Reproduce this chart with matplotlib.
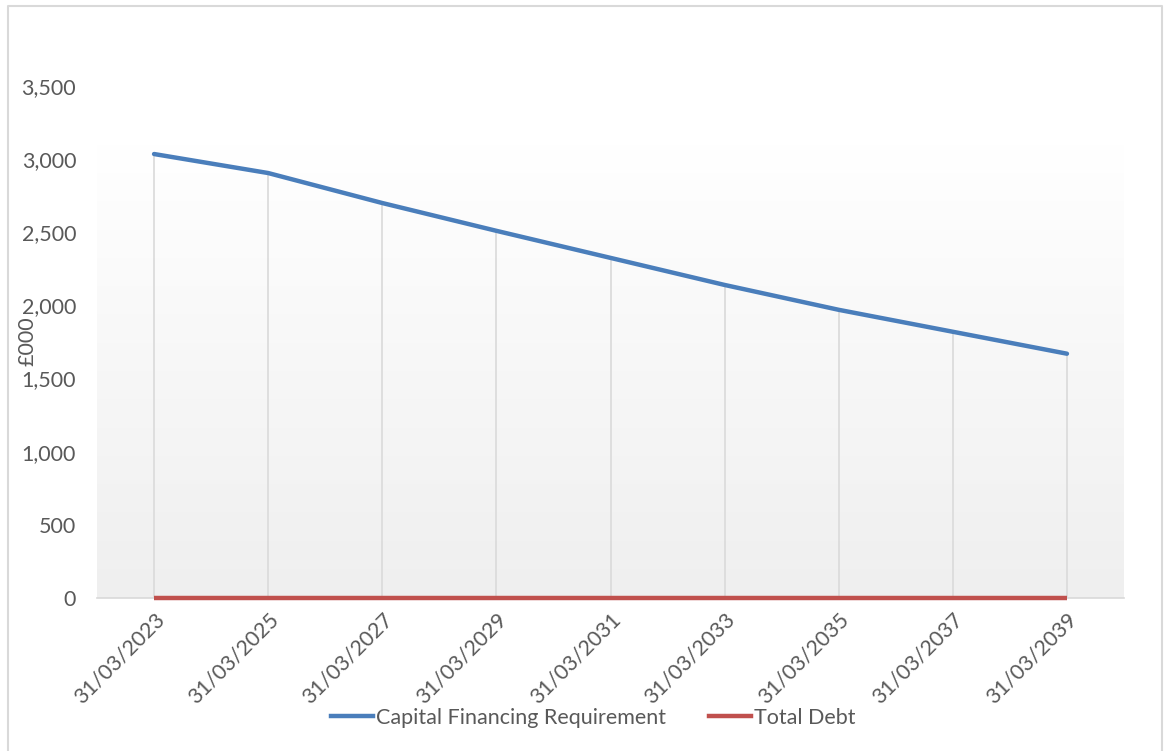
import numpy as np
import matplotlib.pyplot as plt
from matplotlib.lines import Line2D

# Chart data (£000)
dates = ['31/03/2023', '31/03/2025', '31/03/2027', '31/03/2029', '31/03/2031',
         '31/03/2033', '31/03/2035', '31/03/2037', '31/03/2039']
cfr = [3035, 2905, 2700, 2510, 2325, 2140, 1970, 1820, 1670]
total_debt = [0, 0, 0, 0, 0, 0, 0, 0, 0]
yticks = [0, 500, 1000, 1500, 2000, 2500, 3000, 3500]

plt.rcParams['font.family'] = ['Lato', 'DejaVu Sans']
text_col = '#595959'
fs = 15.5

fig = plt.figure(figsize=(11.65, 7.51), dpi=100)
ax = fig.add_axes([97 / 1165, 1 - 598 / 751, (1124 - 97) / 1165, (598 - 86) / 751])

x = np.arange(len(dates))
ax.set_xlim(-0.5, len(dates) - 0.5)
ax.set_ylim(0, 3500)

# gradient plot-area fill (white at top to light grey at bottom)
grad = np.linspace(0, 1, 256).reshape(-1, 1)
ax.imshow(grad, cmap=plt.matplotlib.colors.LinearSegmentedColormap.from_list(
    'g', ['#efefef', '#ffffff']), origin='lower', aspect='auto',
    extent=(-0.5, len(dates) - 0.5, 0, 3100), zorder=0)

# drop lines
ax.vlines(x, 0, cfr, color='#dcdcdc', lw=1.3, zorder=1)

ax.plot(x, cfr, color='#4a7ebb', lw=3.2, solid_capstyle='round', zorder=3)
ax.plot(x, total_debt, color='#c0504d', lw=3.2, solid_capstyle='butt',
        zorder=4, clip_on=False)

ax.set_xticks(x)
ax.set_xticklabels(dates, rotation=45, ha='right', va='top',
                   rotation_mode='anchor', fontsize=fs, color=text_col)
ax.set_yticks(yticks)
ax.set_yticklabels([f'{v:,}' for v in yticks], fontsize=fs, color=text_col)
ax.tick_params(axis='y', length=0, pad=15)
ax.tick_params(axis='x', length=0, pad=8)

for s in ['top', 'right', 'left']:
    ax.spines[s].set_visible(False)
ax.spines['bottom'].set_color('#d9d9d9')
ax.spines['bottom'].set_linewidth(1.2)

fig.text(27 / 1165, 1 - 341 / 751, '£000', rotation=90, fontsize=fs,
         color=text_col, ha='center', va='center')

handles = [Line2D([], [], color='#4a7ebb', lw=3.2),
           Line2D([], [], color='#c0504d', lw=3.2)]
fig.legend(handles, ['Capital Financing Requirement', 'Total Debt'],
           loc='center', bbox_to_anchor=(593.5 / 1165, 1 - 718 / 751), ncol=2,
           frameon=False, fontsize=fs, labelcolor=text_col,
           handlelength=1.95, handletextpad=0.15, columnspacing=2.0)

# chart border
fig.add_artist(Line2D([8 / 1165, 8 / 1165, 1162 / 1165, 1162 / 1165],
                      [0, 1 - 6 / 751, 1 - 6 / 751, 0],
                      transform=fig.transFigure, color='#d9d9d9', lw=1.5))

fig.savefig('out.png', dpi=100, facecolor='white')
